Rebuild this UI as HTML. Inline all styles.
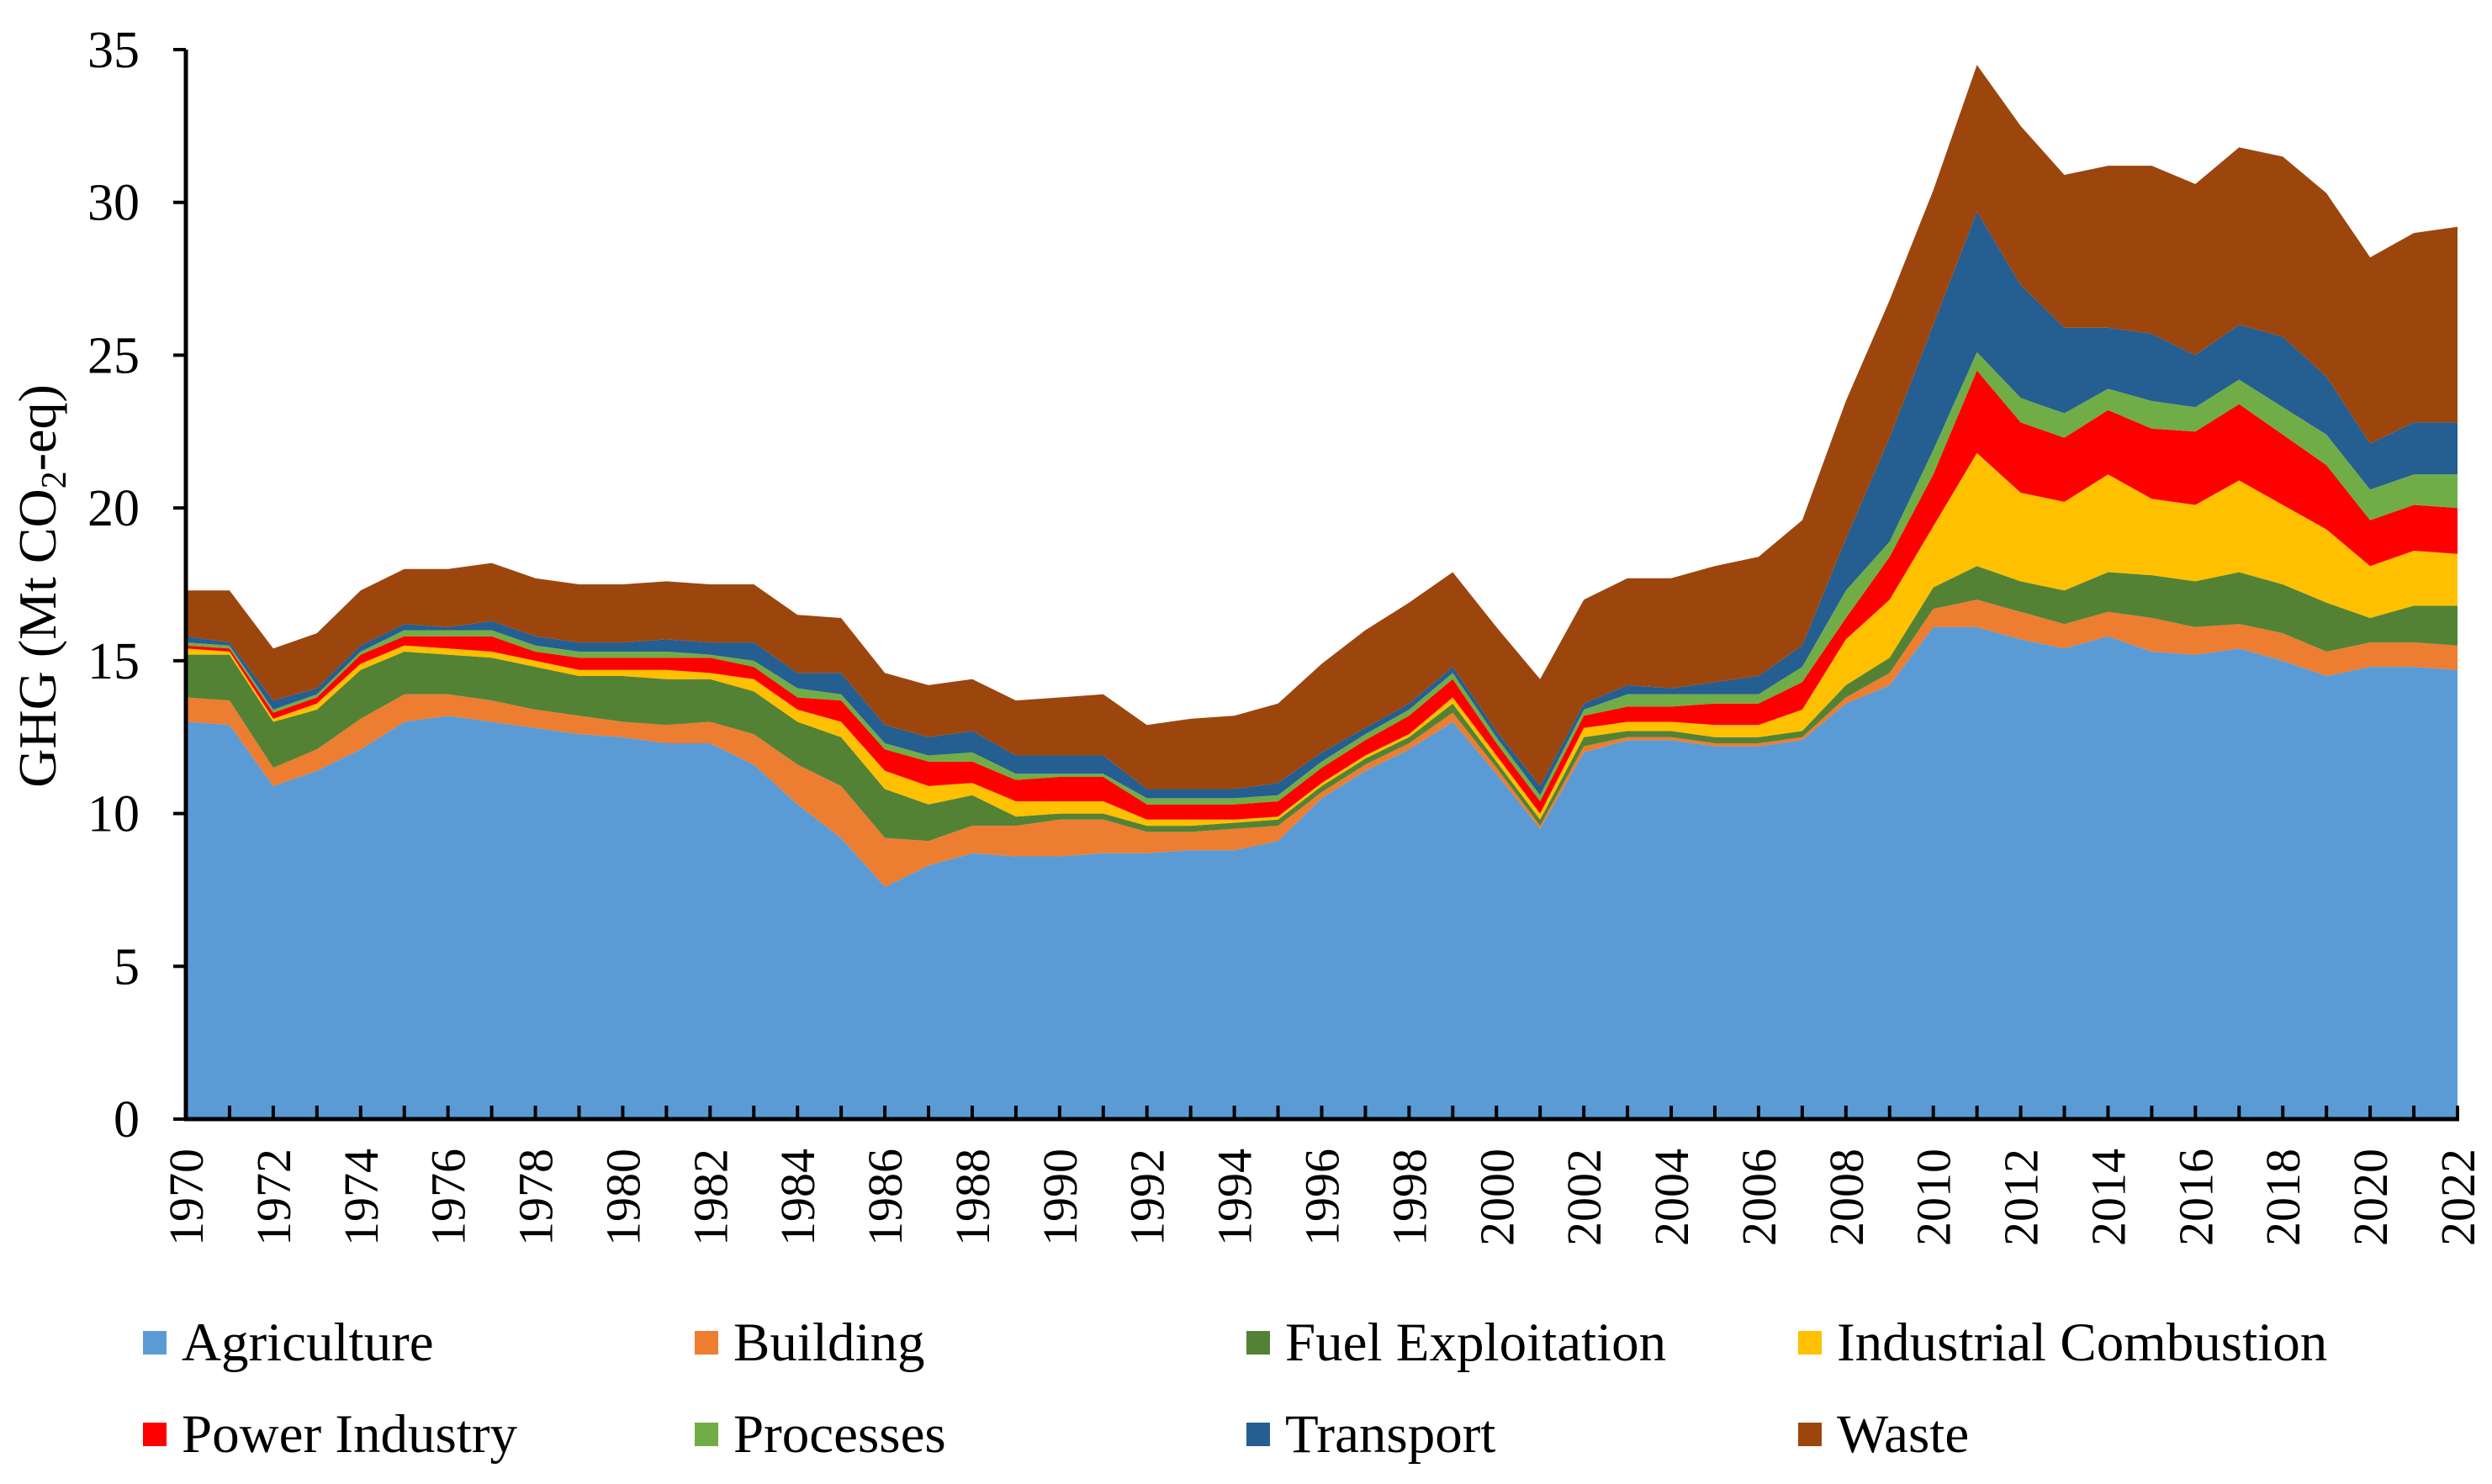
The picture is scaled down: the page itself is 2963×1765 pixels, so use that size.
<!DOCTYPE html>
<html><head><meta charset="utf-8"><style>
html,body{margin:0;padding:0;background:#fff;}
svg{display:block;font-family:"Liberation Serif","Times New Roman",serif;}
</style></head><body>
<svg id="chart" width="2963" height="1765" viewBox="0 0 2963 1765">
<g id="areas"></g>
<g id="axes"></g>
<text transform="translate(66,697) rotate(-90)" text-anchor="middle" font-size="64">GHG (Mt CO<tspan font-size="42" dy="12">2</tspan><tspan dy="-12">-eq)</tspan></text>
<g id="legend"></g>
</svg>
<script>
const years = [];
for (let y = 1970; y <= 2022; y++) years.push(y);
const yTicks = [0,5,10,15,20,25,30,35];
const seriesNames = ["Agriculture","Building","Fuel Exploitation","Industrial Combustion","Power Industry","Processes","Transport","Waste"];
// cumulative stack tops
const agricultureTop = [13.0,12.9,10.9,11.4,12.1,13.0,13.2,13.0,12.8,12.6,12.5,12.3,12.3,11.6,10.3,9.2,7.6,8.3,8.7,8.6,8.6,8.7,8.7,8.8,8.8,9.1,10.5,11.4,12.1,13.0,11.3,9.5,12.0,12.4,12.4,12.2,12.2,12.4,13.6,14.2,16.1,16.1,15.7,15.4,15.8,15.3,15.2,15.4,15.0,14.5,14.8,14.8,14.7];
const buildingTop = [13.8,13.7,11.5,12.1,13.1,13.9,13.9,13.7,13.4,13.2,13.0,12.9,13.0,12.6,11.6,10.9,9.2,9.1,9.6,9.6,9.8,9.8,9.4,9.4,9.5,9.6,10.7,11.6,12.3,13.3,11.5,9.6,12.2,12.5,12.5,12.3,12.3,12.5,13.8,14.6,16.7,17.0,16.6,16.2,16.6,16.4,16.1,16.2,15.9,15.3,15.6,15.6,15.5];
const fuelTop = [15.2,15.2,13.0,13.4,14.7,15.3,15.2,15.1,14.8,14.5,14.5,14.4,14.4,14.0,13.0,12.5,10.8,10.3,10.6,9.9,10.0,10.0,9.6,9.6,9.7,9.8,10.9,11.8,12.5,13.6,11.7,9.8,12.5,12.7,12.7,12.5,12.5,12.7,14.2,15.1,17.4,18.1,17.6,17.3,17.9,17.8,17.6,17.9,17.5,16.9,16.4,16.8,16.8];
const industrialTop = [15.4,15.3,13.1,13.6,14.9,15.5,15.4,15.3,15.0,14.7,14.7,14.7,14.6,14.4,13.4,13.0,11.4,10.9,11.0,10.4,10.4,10.4,9.8,9.8,9.8,9.9,11.0,11.9,12.6,13.8,11.9,10.0,12.8,13.0,13.0,12.9,12.9,13.4,15.7,17.0,19.4,21.8,20.5,20.2,21.1,20.3,20.1,20.9,20.1,19.3,18.1,18.6,18.5];
const powerTop = [15.5,15.4,13.3,13.8,15.2,15.8,15.8,15.8,15.3,15.1,15.1,15.1,15.1,14.8,13.8,13.7,12.1,11.7,11.7,11.1,11.2,11.2,10.3,10.3,10.3,10.4,11.5,12.4,13.2,14.4,12.3,10.4,13.2,13.5,13.5,13.6,13.6,14.3,16.4,18.4,21.1,24.5,22.8,22.3,23.2,22.6,22.5,23.4,22.4,21.4,19.6,20.1,20.0];
const processesTop = [15.6,15.5,13.4,13.9,15.3,16.0,16.0,16.0,15.5,15.3,15.3,15.3,15.2,15.0,14.1,13.9,12.3,11.9,12.0,11.3,11.3,11.3,10.5,10.5,10.5,10.6,11.7,12.6,13.4,14.6,12.5,10.6,13.4,13.9,13.9,13.9,13.9,14.8,17.3,18.9,21.9,25.1,23.6,23.1,23.9,23.5,23.3,24.2,23.3,22.4,20.6,21.1,21.1];
const transportTop = [15.8,15.6,13.7,14.1,15.5,16.2,16.1,16.3,15.8,15.6,15.6,15.7,15.6,15.6,14.6,14.6,12.9,12.5,12.7,11.9,11.9,11.9,10.8,10.8,10.8,11.0,12.0,12.8,13.6,14.8,12.7,10.9,13.6,14.2,14.1,14.3,14.5,15.5,19.0,22.3,26.0,29.7,27.3,25.9,25.9,25.7,25.0,26.0,25.6,24.3,22.1,22.8,22.8];
const wasteTop = [17.3,17.3,15.4,15.9,17.3,18.0,18.0,18.2,17.7,17.5,17.5,17.6,17.5,17.5,16.5,16.4,14.6,14.2,14.4,13.7,13.8,13.9,12.9,13.1,13.2,13.6,14.9,16.0,16.9,17.9,16.1,14.4,17.0,17.7,17.7,18.1,18.4,19.6,23.5,26.8,30.4,34.5,32.5,30.9,31.2,31.2,30.6,31.8,31.5,30.3,28.2,29.0,29.2];

const tops = [agricultureTop,buildingTop,fuelTop,industrialTop,powerTop,processesTop,transportTop,wasteTop];
const colors = ["#5B9BD5","#ED7D31","#548235","#FFC000","#FF0000","#70AD47","#255E91","#9C460E"];
const slugs = ["agriculture","building","fuel-exploitation","industrial-combustion","power-industry","processes","transport","waste"];
const NS = "http://www.w3.org/2000/svg";
const X0 = 221, X1 = 2922, Y0 = 1331, Y35 = 59;
const xS = y => X0 + (y - years[0]) / (years[years.length-1] - years[0]) * (X1 - X0);
const yS = v => Y0 - v / 35 * (Y0 - Y35);
function mk(tag, attrs, parent){ const e=document.createElementNS(NS,tag); for(const k in attrs) e.setAttribute(k,attrs[k]); parent.appendChild(e); return e; }

const areas = document.getElementById('areas');
for (let s = 0; s < tops.length; s++) {
  const top = tops[s], bot = s ? tops[s-1] : years.map(()=>0);
  let d = "";
  years.forEach((y,i)=>{ d += (i?"L":"M") + xS(y).toFixed(1) + "," + yS(top[i]).toFixed(1); });
  for (let i = years.length-1; i >= 0; i--) d += "L" + xS(years[i]).toFixed(1) + "," + yS(bot[i]).toFixed(1);
  const p = mk('path', {d: d + "Z", fill: colors[s]}, areas);
  
  
}

const axes = document.getElementById('axes');
const ya = mk('line',{x1:X0,y1:Y35,x2:X0,y2:Y0+2,stroke:"#000","stroke-width":5},axes);


const xa = mk('line',{x1:X0-2,y1:Y0,x2:X1+2,y2:Y0,stroke:"#000","stroke-width":5},axes);


yTicks.forEach(v=>{
  const t = mk('line',{x1:X0-15,y1:yS(v),x2:X0,y2:yS(v),stroke:"#000","stroke-width":4},axes);
  
  
  const l = mk('text',{x:166,y:yS(v)+21,"text-anchor":"end","font-size":62},axes);
  l.textContent = v;
  
  
});
years.forEach((y,i)=>{
  const t = mk('line',{x1:xS(y),y1:Y0-16,x2:xS(y),y2:Y0,stroke:"#000","stroke-width":4},axes);
  
  
  if (i % 2 === 0) {
    const l = mk('text',{transform:`translate(${xS(y)+20},1366) rotate(-90)`,"text-anchor":"end","font-size":58},axes);
    l.textContent = y;
    
    
  }
});

const legend = document.getElementById('legend');
const colX = [170, 826, 1482, 2138], rowY = [1597, 1706];
seriesNames.forEach((n,i)=>{
  const cx = colX[i%4], cy = rowY[Math.floor(i/4)];
  const g = mk('g',{},legend);
  
  
  const r = mk('rect',{x:cx,y:cy-14,width:28,height:28,fill:colors[i]},g);
  
  
  const t = mk('text',{x:cx+46,y:cy+21,"font-size":65},g);
  t.textContent = n;
  
  
});
</script>
</body></html>
